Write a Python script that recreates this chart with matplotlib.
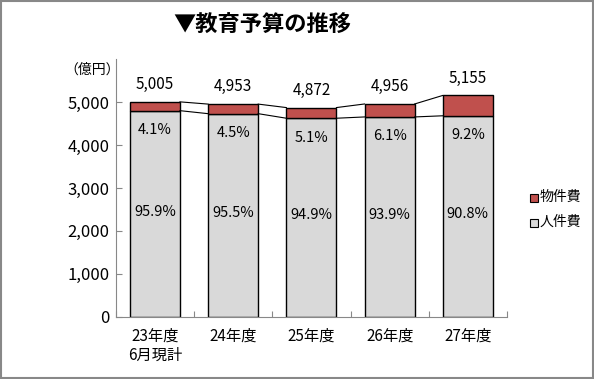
import matplotlib
matplotlib.use('Agg')
import matplotlib.pyplot as plt
from matplotlib.patches import Rectangle
import numpy as np

plt.rcParams['font.family'] = ['Noto Sans CJK JP', 'DejaVu Sans']

categories = ['23年度\n6月現計', '24年度', '25年度', '26年度', '27年度']
jinken = [4800, 4730, 4624, 4654, 4681]     # 人件費 (億円)
bukken = [205, 223, 248, 302, 474]          # 物件費 (億円)
totals = [5005, 4953, 4872, 4956, 5155]
pct_jinken = ['95.9%', '95.5%', '94.9%', '93.9%', '90.8%']
pct_bukken = ['4.1%', '4.5%', '5.1%', '6.1%', '9.2%']
yticks = [0, 1000, 2000, 3000, 4000, 5000]

red = '#C0504D'
gray = '#D9D9D9'

fig = plt.figure(figsize=(5.94, 3.79), dpi=100)
ax = fig.add_axes([0.195, 0.164, 0.6585, 0.68])

x = np.arange(len(categories))
w = 0.64
ax.bar(x, jinken, w, color=gray, edgecolor='black', linewidth=1.0)
ax.bar(x, bukken, w, bottom=jinken, color=red, edgecolor='black', linewidth=1.0)

# series lines between bars
for i in range(len(x) - 1):
    ax.plot([x[i] + w / 2, x[i + 1] - w / 2], [jinken[i], jinken[i + 1]],
            color='black', lw=0.8)
    ax.plot([x[i] + w / 2, x[i + 1] - w / 2], [totals[i], totals[i + 1]],
            color='black', lw=0.8)

for i in range(len(x)):
    ax.text(x[i], jinken[i] / 2 + 50, pct_jinken[i], ha='center', va='center', fontsize=10.5)
    ax.text(x[i], jinken[i] - 450, pct_bukken[i], ha='center', va='center', fontsize=10.5)
    ax.annotate(f'{totals[i]:,}', (x[i], totals[i]), xytext=(0, 12.5),
                textcoords='offset points', ha='center', va='center', fontsize=11)

ax.set_xlim(-0.5, len(x) - 0.5)
ax.set_ylim(0, 6000)
ax.set_yticks(yticks)
ax.set_yticklabels([f'{v:,}' for v in yticks], fontsize=12)
ax.set_xticks(np.arange(len(x) + 1) - 0.5, minor=False)
ax.set_xticklabels([])
ax.set_xticks(x, minor=True)
ax.set_xticklabels(categories, minor=True, fontsize=11, linespacing=1.15)
ax.tick_params(axis='x', which='minor', length=0, pad=8)
ax.tick_params(axis='x', which='major', direction='in', length=4, color='#888888')
ax.tick_params(axis='y', direction='in', length=4, color='#888888', pad=4.5)
for s in ['top', 'right']:
    ax.spines[s].set_visible(False)
for s in ['left', 'bottom']:
    ax.spines[s].set_color('#888888')

fig.text(0.441, 0.934, '▼教育予算の推移', ha='center', va='center',
         fontsize=16, fontweight='bold')
fig.text(0.155, 0.815, '（億円）', ha='center', va='center', fontsize=10)

# legend
leg = [(red, '物件費', 0.480), (gray, '人件費', 0.414)]
for col, lab, yy in leg:
    fig.patches.append(Rectangle((0.892, yy - 0.012), 0.0135, 0.021, transform=fig.transFigure,
                                 facecolor=col, edgecolor='black', lw=0.8))
    fig.text(0.909, yy, lab, ha='left', va='center', fontsize=10)

fig.patches.append(Rectangle((0.002, 0.003), 0.996, 0.994, transform=fig.transFigure,
                             fill=False, edgecolor='#888888', lw=1.5))

fig.savefig('out.png', dpi=100)
